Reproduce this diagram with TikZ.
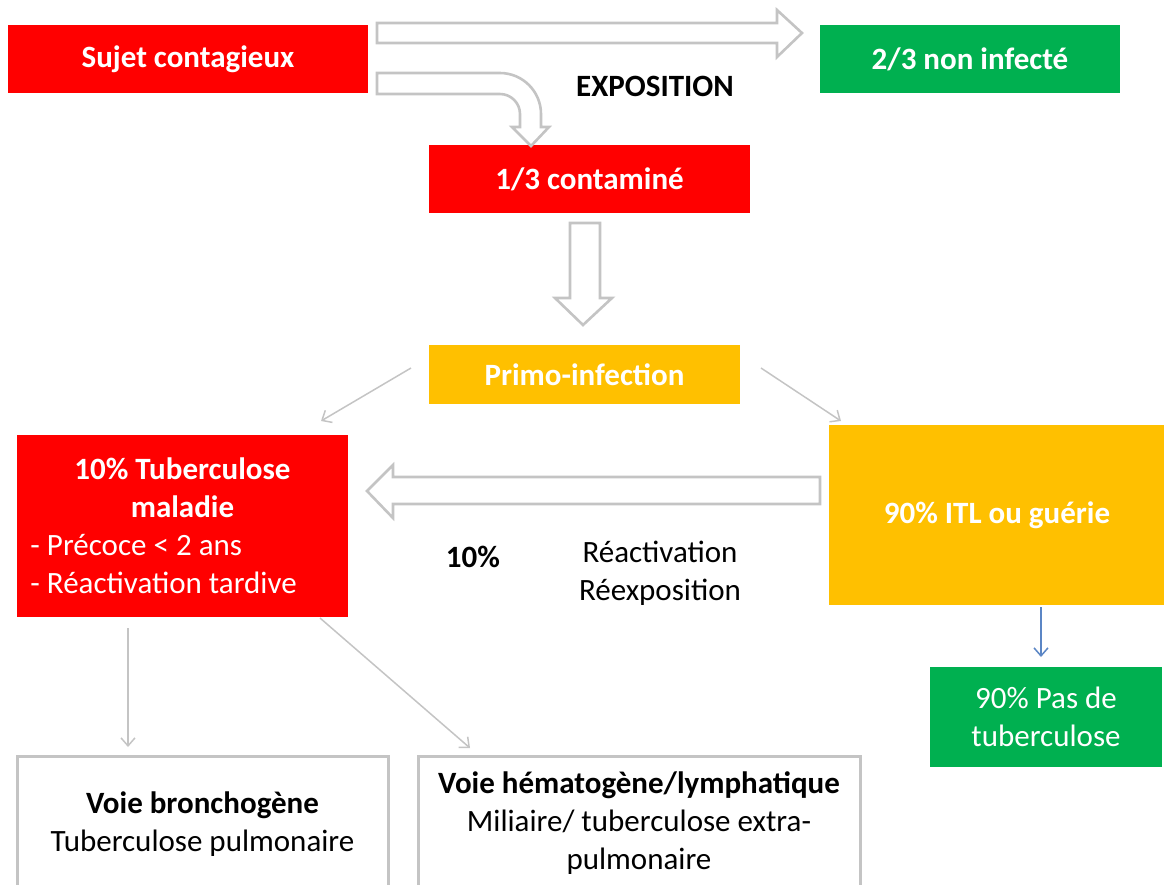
\documentclass[tikz,border=0pt]{standalone}
\usepackage{fontspec}
\setmainfont{Carlito}
\usetikzlibrary{arrows.meta}
\definecolor{rouge}{HTML}{FF0000}
\definecolor{vert}{HTML}{00B050}
\definecolor{orange}{HTML}{FFC000}
\definecolor{gris}{HTML}{C4C4C4}
\definecolor{bleu}{HTML}{5B86C5}
\newcommand{\diagfont}{\fontsize{15.5}{19}\selectfont}

\begin{document}
\begin{tikzpicture}[x = 0.5pt, y = -0.5pt]
	\tikzstyle{boxStyle} = [shape = rectangle, inner sep = 0pt, align = center, text = white, font = \diagfont\bfseries]
	\tikzstyle{redStyle} = [boxStyle, fill = rouge]
	\tikzstyle{greenStyle} = [boxStyle, fill = vert]
	\tikzstyle{orangeStyle} = [boxStyle, fill = orange]
	\tikzstyle{whiteStyle} = [shape = rectangle, inner sep = 0pt, align = center, draw = gris, line width = 1.5pt, font = \diagfont]
	\tikzstyle{textStyle} = [inner sep = 0pt, align = center, font = \diagfont]
	\tikzstyle{blockStyle} = [draw = gris, fill = white, line width = 1.3pt, line join = miter]
	\tikzstyle{lineStyle} = [draw = gris, line width = 0.75pt, -{Straight Barb[length = 4pt, width = 7pt]}]
	\useasboundingbox (0,0) rectangle (1164,885);
	\clip (0,0) rectangle (1164,885);
	% boxes
	\node[redStyle, minimum width = 180pt, minimum height = 34pt] (sujet) at (188,59) {Sujet contagieux};
	\node[greenStyle, minimum width = 150pt, minimum height = 34pt] (nonInf) at (970,59) {2/3 non infecté};
	\node[redStyle, minimum width = 160.5pt, minimum height = 34pt] (contam) at (589.5,179) {1/3 contaminé};
	\node[orangeStyle, minimum width = 155.5pt, minimum height = 29.5pt] (primo) at (584.5,374.5) {Primo-infection};
	\node[redStyle, minimum width = 165.5pt, minimum height = 91pt, text width = 152pt, align = flush left] (tbm) at (182.5,526)
		{\makebox[152pt]{10\% Tuberculose}\\ \makebox[152pt]{maladie}\\ \mdseries - Précoce < 2 ans\\ - Réactivation tardive};
	\node[orangeStyle, minimum width = 168pt, minimum height = 90pt] (itl) at (997,515) {90\% ITL ou guérie};
	\node[greenStyle, minimum width = 116pt, minimum height = 50pt, font = \diagfont] (pasTb) at (1046,717) {90\% Pas de\\ tuberculose};
	\node[whiteStyle, minimum width = 185.5pt, minimum height = 68pt] (bronch) at (202.5,824)
		{\textbf{Voie bronchogène}\\ Tuberculose pulmonaire};
	\node[whiteStyle, minimum width = 221pt, minimum height = 67pt] (hemato) at (639,823)
		{\textbf{Voie hématogène/lymphatique}\\ Miliaire/ tuberculose extra-\\ pulmonaire};
	% labels
	\node[textStyle, font = \diagfont\bfseries] (expo) at (655,86) {EXPOSITION};
	\node[textStyle, font = \diagfont\bfseries] (pct) at (473,557) {10\%};
	\node[textStyle] (react) at (660,573) {Réactivation\\ Réexposition};
	% block arrows
	\draw[blockStyle] (377,23) -- (777,23) -- (777,10) -- (802,33) -- (777,57) -- (777,43) -- (377,43) -- cycle;
	\draw[blockStyle] (377,73) -- (500,73) .. controls (522.6,73) and (541,91.4) .. (541,114) -- (541,127) -- (549,127)
		-- (531,146) -- (512,127) -- (520,127) -- (520,114) .. controls (520,103) and (511,94) .. (500,94) -- (377,94) -- cycle;
	\draw[blockStyle] (570,223) -- (600,223) -- (600,298) -- (612,298) -- (583,325) -- (555,298) -- (570,298) -- cycle;
	\draw[blockStyle] (820,477) -- (393,477) -- (393,465) -- (367,491) -- (393,518) -- (393,504) -- (820,504) -- cycle;
	% thin arrows
	\coordinate (p1) at (411,368);
	\coordinate (p2) at (321,421);
	\coordinate (p3) at (761,368);
	\coordinate (p4) at (841,421);
	\coordinate (t1) at (128,628);
	\coordinate (t2) at (128,747);
	\coordinate (t3) at (320,618);
	\coordinate (t4) at (470,748);
	\coordinate (i1) at (1041,607);
	\coordinate (i2) at (1041,657);
	\draw[lineStyle] (p1) -- (p2);
	\draw[lineStyle] (p3) -- (p4);
	\draw[lineStyle] (t1) -- (t2);
	\draw[lineStyle] (t3) -- (t4);
	\draw[lineStyle, draw = bleu] (i1) -- (i2);
\end{tikzpicture}
\end{document}
